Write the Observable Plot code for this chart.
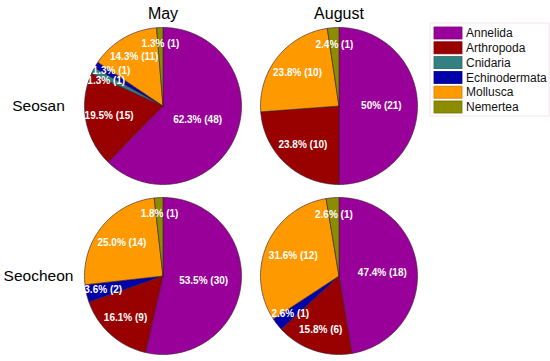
<!DOCTYPE html>
<html><head><meta charset="utf-8">
<script src="https://cdn.jsdelivr.net/npm/d3@7"></script>
<script src="https://cdn.jsdelivr.net/npm/@observablehq/plot@0.6"></script>
<style>
body{margin:0;background:#fff;font-family:"Liberation Sans",Arial,sans-serif;}
#wrap{position:relative;width:550px;height:361px;overflow:hidden;}
#legend{position:absolute;left:0;top:0;}
</style></head><body><div id="wrap"></div>
<script>
const taxa = ["Annelida","Arthropoda","Cnidaria","Echinodermata","Mollusca","Nemertea"];
const colors = ["#990099","#990000","#338080","#0000aa","#ff9900","#8c8c00"];
const months = ["May","August"];
const sites = ["Seosan","Seocheon"];
const seosanMay = [48,15,1,1,11,1];
const seosanAug = [21,10,0,0,10,1];
const seocheonMay = [30,9,0,2,14,1];
const seocheonAug = [18,6,0,1,12,1];
const seosanMayPct = ["62.3%","19.5%","1.3%","1.3%","14.3%","1.3%"];
const seosanAugPct = ["50%","23.8%","","","23.8%","2.4%"];
const seocheonMayPct = ["53.5%","16.1%","","3.6%","25.0%","1.8%"];
const seocheonAugPct = ["47.4%","15.8%","","2.6%","31.6%","2.6%"];

const panels = [
  {site:"Seosan", month:"May", counts:seosanMay, pcts:seosanMayPct},
  {site:"Seosan", month:"August", counts:seosanAug, pcts:seosanAugPct},
  {site:"Seocheon", month:"May", counts:seocheonMay, pcts:seocheonMayPct},
  {site:"Seocheon", month:"August", counts:seocheonAug, pcts:seocheonAugPct}
];

const pie = d3.pie().sort(null).value(d => d.count);
const minSep = 10 * Math.PI / 180;
const points = [];
const labels = [];
for (const p of panels) {
  const rows = taxa.map((t, i) => ({taxon: t, count: p.counts[i], pct: p.pcts[i]}));
  const total = d3.sum(rows, d => d.count);
  const lab = [];
  for (const a of pie(rows)) {
    if (a.data.count <= 0) continue;
    const key = p.site + "-" + p.month + "-" + a.data.taxon;
    const n = Math.max(2, Math.ceil((a.endAngle - a.startAngle) / (Math.PI / 180)));
    points.push({site:p.site, month:p.month, taxon:a.data.taxon, key, x:0, y:0});
    for (let k = 0; k <= n; k++) {
      const ang = a.startAngle + (a.endAngle - a.startAngle) * k / n;
      points.push({site:p.site, month:p.month, taxon:a.data.taxon, key, x:Math.sin(ang), y:Math.cos(ang)});
    }
    points.push({site:p.site, month:p.month, taxon:a.data.taxon, key, x:0, y:0});
    const share = a.data.count / total;
    lab.push({share, mid:(a.startAngle + a.endAngle) / 2, text: a.data.pct + " (" + a.data.count + ")"});
  }
  // spread neighbouring labels of tiny slices apart
  for (let i = 1; i < lab.length; i++) {
    const A = lab[i-1], B = lab[i];
    if (A.share < 0.05 && B.share < 0.05 && B.mid - A.mid < minSep) {
      const c = (A.mid + B.mid) / 2;
      A.mid = c - minSep / 2; B.mid = c + minSep / 2;
    }
  }
  for (const l of lab) {
    const f = 0.8 - 0.52 * l.share;
    labels.push({site:p.site, month:p.month, x:f*Math.sin(l.mid), y:f*Math.cos(l.mid), text:l.text});
  }
}

const chart = Plot.plot({
  width: 550,
  height: 361,
  marginTop: 26,
  marginBottom: 6,
  marginLeft: 83,
  marginRight: 132,
  style: {fontFamily: "'Liberation Sans', Arial, sans-serif", background: "white"},
  x: {domain: [-1, 1], axis: null},
  y: {domain: [-1, 1], axis: null},
  fx: {domain: months, paddingInner: 0.107, paddingOuter: 0, axis: null},
  fy: {domain: sites, paddingInner: 0.076, paddingOuter: 0, axis: null},
  color: {domain: taxa, range: colors},
  marks: [
    Plot.line(points, {fx:"month", fy:"site", x:"x", y:"y", z:"key", fill:"taxon",
      stroke:"#3a2030", strokeWidth:0.7, strokeOpacity:0.9, strokeLinejoin:"round"}),
    Plot.text(labels, {fx:"month", fy:"site", x:"x", y:"y", text:"text",
      fill:"white", fontWeight:"bold", fontSize:10}),
    Plot.axisFx({anchor:"top", tickSize:0, tickPadding:9, fontSize:16, label:null, fill:"black"}),
    Plot.axisFy({anchor:"left", tickSize:0, tickPadding:0, fontSize:15.5, label:null,
      textAnchor:"middle", dx:-46, fill:"black"})
  ]
});
document.getElementById("wrap").appendChild(chart);

// legend
const lg = d3.select("#wrap").append("svg").attr("id","legend")
  .attr("width",550).attr("height",361).style("pointer-events","none");
lg.append("rect").attr("x",430).attr("y",23).attr("width",119).attr("height",93)
  .attr("fill","none").attr("stroke","#f3e6f0").attr("stroke-width",1);
const item = lg.selectAll("g").data(taxa).join("g")
  .attr("transform", (d,i) => `translate(434,${27 + i*14.8})`);
item.append("rect").attr("width",28).attr("height",12)
  .attr("fill",(d,i)=>colors[i]).attr("stroke",(d,i)=>d3.color(colors[i]).darker(0.6)).attr("stroke-width",0.8);
item.append("text").attr("x",32).attr("y",6).attr("dy","0.35em")
  .attr("font-family","'Liberation Sans', Arial, sans-serif").attr("font-size",12).attr("fill","#111")
  .text(d=>d);
</script></body></html>
